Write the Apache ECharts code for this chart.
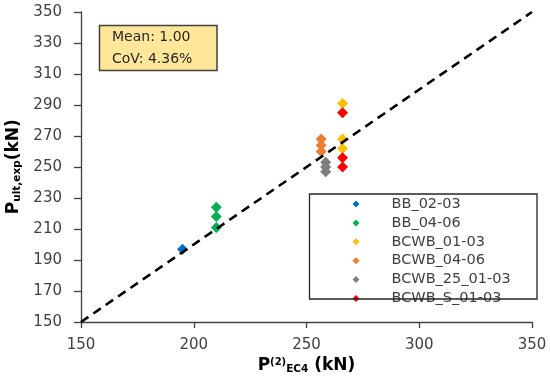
<!DOCTYPE html>
<html>
<head>
<meta charset="utf-8">
<script src="https://cdn.jsdelivr.net/npm/echarts@6/dist/echarts.min.js"></script>
<style>
html,body{margin:0;padding:0;background:#fff;}
#chart{width:550px;height:384px;}
</style>
</head>
<body>
<div id="chart"></div>
<script>
// ---- data ----
const seriesNames = ['BB_02-03', 'BB_04-06', 'BCWB_01-03', 'BCWB_04-06', 'BCWB_25_01-03', 'BCWB_S_01-03'];
const BB_02_03 = [[195, 197]];
const BB_04_06 = [[210, 224], [210, 218], [210, 211]];
const BCWB_01_03 = [[266, 291], [266, 268], [266, 262]];
const BCWB_04_06 = [[256.5, 268], [256.5, 264], [256.5, 260]];
const BCWB_25_01_03 = [[258.5, 253], [258.5, 250], [258.5, 247]];
const BCWB_S_01_03 = [[266, 285], [266, 256], [266, 250]];
const equalityLine = [[150, 150], [350, 350]];
const xTicks = [150, 200, 250, 300, 350];
const yTicks = [150, 170, 190, 210, 230, 250, 270, 290, 310, 330, 350];
const statLines = ['Mean: 1.00', 'CoV: 4.36%'];

const colors = ['#0070C0', '#00B050', '#FFC000', '#ED7D31', '#7F7F7F', '#FF0000'];
const allData = [BB_02_03, BB_04_06, BCWB_01_03, BCWB_04_06, BCWB_25_01_03, BCWB_S_01_03];

const FONT = 'DejaVu Sans';
const chart = echarts.init(document.getElementById('chart'), null, {renderer: 'canvas'});

const scatterSeries = seriesNames.map((n, i) => ({
  name: n,
  type: 'scatter',
  data: allData[i],
  symbol: 'diamond',
  symbolSize: 11,
  itemStyle: {color: colors[i], opacity: 1},
  z: 2
}));

const mainRich = {
  p: {fontFamily: FONT, fontWeight: 'bold', fontSize: 17, lineHeight: 18, color: '#262626'},
  sub: {fontFamily: FONT, fontWeight: 'bold', fontSize: 10.5, lineHeight: 10, verticalAlign: 'bottom', color: '#262626'},
  sup: {fontFamily: FONT, fontWeight: 'bold', fontSize: 10, lineHeight: 10, verticalAlign: 'top', color: '#262626'}
};

const option = {
  animation: false,
  backgroundColor: '#fff',
  grid: {left: 81, right: 18, top: 12, bottom: 62, containLabel: false},
  xAxis: {
    type: 'value', min: xTicks[0], max: xTicks[xTicks.length - 1], interval: 50,
    axisLine: {show: true, onZero: false, lineStyle: {color: '#404040', width: 1.3}},
    axisTick: {show: true, length: 6, lineStyle: {color: '#404040', width: 1.3}},
    axisLabel: {margin: 16, fontFamily: FONT, fontSize: 15, color: '#404040'},
    splitLine: {show: false}
  },
  yAxis: {
    type: 'value', min: yTicks[0], max: yTicks[yTicks.length - 1], interval: 20,
    axisLine: {show: true, onZero: false, lineStyle: {color: '#404040', width: 1.3}},
    axisTick: {show: true, length: 7, lineStyle: {color: '#404040', width: 1.3}},
    axisLabel: {margin: 19, fontFamily: FONT, fontSize: 15, color: '#404040'},
    splitLine: {show: false}
  },
  legend: {
    data: seriesNames,
    orient: 'vertical',
    left: 352.5, top: 196, padding: 0,
    itemGap: 2.9, itemWidth: 7, itemHeight: 7,
    icon: 'diamond',
    textStyle: {fontFamily: FONT, fontSize: 14.5, lineHeight: 16, color: '#404040', padding: [0, 0, 0, 27]}
  },
  series: scatterSeries.concat([{
    name: 'equality',
    type: 'line',
    data: equalityLine,
    symbol: 'none',
    lineStyle: {color: '#000', width: 2.6, type: [9, 6]},
    z: 5,
    silent: true
  }]),
  graphic: [
    {
      type: 'rect', z: 10,
      shape: {x: 99.5, y: 25.5, width: 117.5, height: 45},
      style: {fill: '#FFE699', stroke: '#404040', lineWidth: 1.5}
    },
    {
      type: 'text', z: 11, x: 112, y: 48.5,
      style: {text: statLines.join('\n'), font: '14px "DejaVu Sans"', fill: '#262626', lineHeight: 21.5, verticalAlign: 'middle', align: 'left'}
    },
    {
      type: 'rect', z: 10,
      shape: {x: 309.5, y: 194, width: 227.5, height: 105},
      style: {fill: 'none', stroke: '#262626', lineWidth: 1.3}
    },
    {
      type: 'text', z: 11, x: 306.5, y: 366,
      style: {text: '{p|P}{sup|(2)}{sub|EC4}{p| (kN)}', rich: mainRich, align: 'center', verticalAlign: 'middle'}
    },
    {
      type: 'text', z: 11, x: 14, y: 166.7, rotation: Math.PI / 2,
      style: {text: '{p|P}{sub|ult,exp}{p|(kN)}', rich: mainRich, align: 'center', verticalAlign: 'middle'}
    }
  ]
};
chart.setOption(option);
</script>
</body>
</html>
